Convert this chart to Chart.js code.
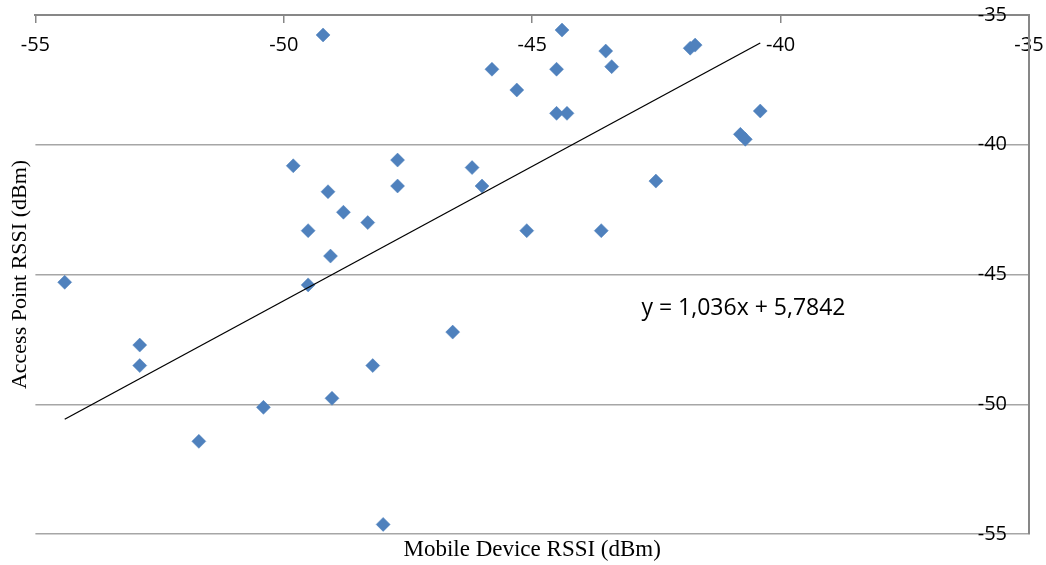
<!DOCTYPE html>
<html>
<head>
<meta charset="utf-8">
<script src="https://cdn.jsdelivr.net/npm/chart.js@4/dist/chart.umd.min.js"></script>
<style>
  html, body { margin: 0; padding: 0; background: #ffffff; }
  #wrap { width: 1046px; height: 565px; position: relative; }
</style>
</head>
<body>
<div id="wrap"><canvas id="c"></canvas></div>
<script>
// ---- data ----
const mobileRssi = [
  -49.21, -49.81, -49.11, -44.40, -43.52, -43.40, -45.81, -44.51, -45.31, -44.51,
  -44.30, -41.82, -41.72, -47.71, -47.71, -46.21, -46.01, -42.51, -40.41, -40.81,
  -40.71, -54.41, -52.90, -52.90, -49.51, -49.06, -49.51, -48.80, -49.03, -48.31,
  -45.11, -43.61, -46.60, -48.21, -51.71, -50.41, -48.00
];
const apRssi = [
  -35.77, -40.81, -41.81, -35.58, -36.39, -36.99, -37.09, -37.09, -37.89, -38.79,
  -38.79, -36.28, -36.16, -40.59, -41.59, -40.88, -41.59, -41.40, -38.70, -39.60,
  -39.79, -45.30, -47.72, -48.51, -43.31, -44.29, -45.40, -42.60, -49.77, -43.00,
  -43.31, -43.31, -47.22, -48.51, -51.43, -50.12, -54.63
];
// linear trendline endpoints (y = 1,036x + 5,7842)
const trendX = [-54.41, -40.41];
const trendY = [-50.58, -36.08];
const trendLabel = 'y = 1,036x + 5,7842';
const trendLabelAt = [-42.8, -46.3];
const xTitle = 'Mobile Device RSSI (dBm)';
const yTitle = 'Access Point RSSI (dBm)';
const axisMin = -55, axisMax = -35, axisStep = 5;

const points = mobileRssi.map((x, i) => ({ x: x, y: apRssi[i] }));
const trendPts = trendX.map((x, i) => ({ x: x, y: trendY[i] }));

const eqPlugin = {
  id: 'eqLabel',
  afterDatasetsDraw(chart) {
    const ctx = chart.ctx;
    const px = chart.scales.x.getPixelForValue(trendLabelAt[0]);
    const py = chart.scales.y.getPixelForValue(trendLabelAt[1]);
    ctx.save();
    ctx.font = '23px "Open Sans"';
    ctx.fillStyle = '#000000';
    ctx.textAlign = 'left';
    ctx.textBaseline = 'middle';
    ctx.fillText(trendLabel, px, py);
    ctx.restore();
  }
};

new Chart(document.getElementById('c'), {
  type: 'scatter',
  data: {
    datasets: [
      {
        data: points,
        xAxisID: 'x', yAxisID: 'y',
        pointStyle: 'rectRot',
        pointRadius: 7,
        pointHoverRadius: 7,
        backgroundColor: '#4F81BD',
        borderColor: '#4F81BD',
        pointBorderWidth: 0.5,
        order: 2
      },
      {
        type: 'line',
        data: trendPts,
        xAxisID: 'x', yAxisID: 'y',
        borderColor: '#000000',
        borderWidth: 1.3,
        pointRadius: 0,
        fill: false,
        showLine: true,
        order: 1
      }
    ]
  },
  options: {
    responsive: true,
    maintainAspectRatio: false,
    animation: false,
    events: [],
    layout: { padding: { left: 1, top: 15, right: 17, bottom: 0 } },
    plugins: {
      legend: { display: false },
      tooltip: { enabled: false },
      title: { display: false }
    },
    scales: {
      x: {
        type: 'linear',
        position: { y: axisMax },
        min: axisMin, max: axisMax,
        ticks: {
          stepSize: axisStep,
          color: '#000000',
          padding: 2,
          font: { family: '"Open Sans"', size: 20, lineHeight: 2.1 }
        },
        grid: {
          drawOnChartArea: false,
          drawTicks: true,
          tickLength: 7,
          tickColor: '#878787',
          lineWidth: 1.5
        },
        border: { display: true, color: '#878787', width: 2 }
      },
      xTitleAxis: {
        type: 'linear',
        axis: 'x',
        position: 'bottom',
        min: axisMin, max: axisMax,
        ticks: { display: false },
        grid: { display: false, drawTicks: false },
        border: { display: false },
        title: {
          display: true,
          text: xTitle,
          color: '#000000',
          font: { family: '"Liberation Serif"', size: 23, weight: 'normal' },
          padding: { top: 2, bottom: 1.4 }
        }
      },
      y: {
        type: 'linear',
        position: 'right',
        min: axisMin, max: axisMax,
        ticks: {
          stepSize: axisStep,
          mirror: true,
          padding: -22,
          color: '#000000',
          font: { family: '"Open Sans"', size: 20 }
        },
        grid: {
          color: '#a6a6a6',
          lineWidth: 1.5,
          drawTicks: false
        },
        border: { display: true, color: '#878787', width: 2 }
      },
      yTitleAxis: {
        type: 'linear',
        axis: 'y',
        position: 'left',
        min: axisMin, max: axisMax,
        ticks: { display: false },
        grid: { display: false, drawTicks: false },
        border: { display: false },
        title: {
          display: true,
          text: yTitle,
          color: '#000000',
          font: { family: '"Liberation Serif"', size: 22, weight: 'normal' },
          padding: { top: 6, bottom: 2 }
        }
      }
    }
  },
  plugins: [eqPlugin]
});
</script>
</body>
</html>
